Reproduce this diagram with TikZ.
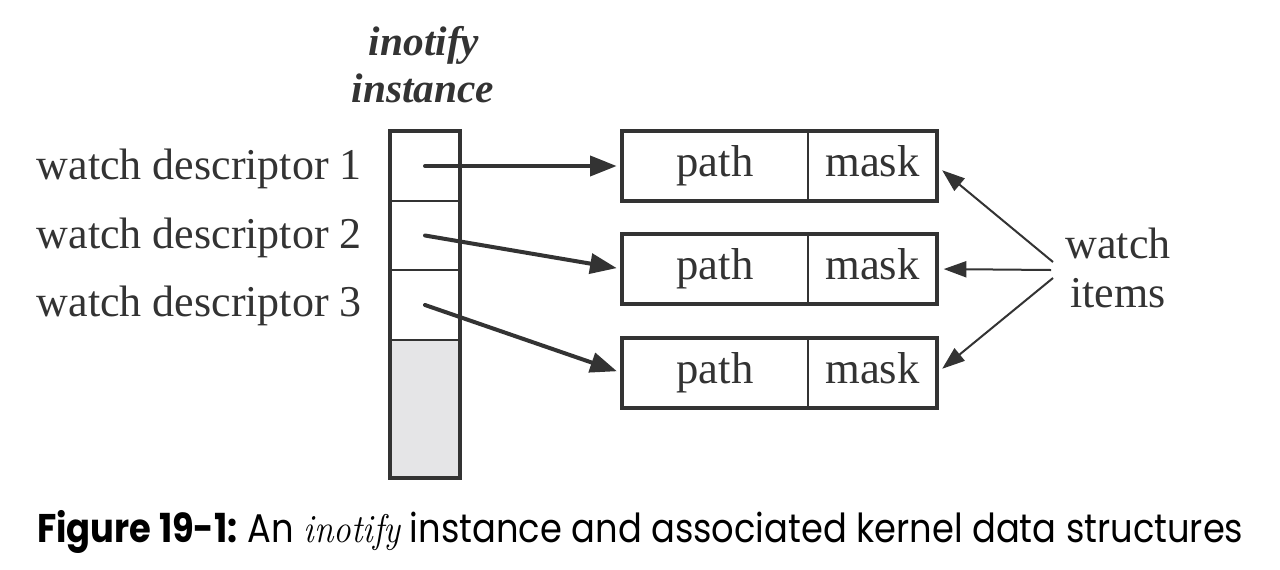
\documentclass[tikz,border=0pt]{standalone}
\usepackage{fontspec}
\usepackage{graphicx}
\usetikzlibrary{arrows.meta,calc}
\newfontfamily\dfont{Liberation Serif}
\newfontfamily\capfont{Poppins}
\definecolor{ink}{HTML}{333333}
\definecolor{cellgray}{HTML}{E5E5E7}
\begin{document}
\begin{tikzpicture}[x=0.75pt,y=-0.75pt,
  dtext/.style={inner sep=0pt, text=ink, font=\dfont\fontsize{33}{40}\selectfont},
  ttext/.style={inner sep=0pt, text=ink, font=\dfont\fontsize{31}{37}\selectfont\bfseries\itshape},
  cell/.style={draw=ink, line width=1.5pt, minimum width=52.5pt, inner sep=0pt, outer sep=0pt},
  fieldbox/.style={draw=ink, line width=1.5pt, minimum height=52.5pt, inner sep=0pt, outer sep=0pt,
     text=ink, font=\dfont\fontsize{33.5}{40}\selectfont, text height=23pt, text depth=8pt},
  outline/.style={draw=ink, line width=3pt},
  bigarrow/.style={draw=ink, line width=3pt, line cap=round, shorten >=4pt, -{Triangle[length=20pt,width=15pt]}},
  thinarrow/.style={draw=ink, line width=1.5pt, shorten >=5pt, -{Triangle[length=17pt,width=12pt]}}
]
\useasboundingbox (0,0) rectangle (1280,569);
\fill[white] (0,0) rectangle (1280,569);

% title
\node[ttext, anchor=base] (t1) at (424,55) {inotify};
\node[ttext, anchor=base] (t2) at (423,102) {instance};

% column cells
\node[cell, minimum height=52.5pt] (c1) at (425,166) {};
\node[cell, minimum height=51.75pt] (c2) at (425,235.5) {};
\node[cell, minimum height=52.5pt] (c3) at (425,305) {};
\node[cell, minimum height=103.5pt, fill=cellgray] (c4) at (425,409) {};
\draw[outline] (c1.north west) rectangle (c4.south east);

% labels
\node[dtext, anchor=base east] (l1) at (362,179) {watch descriptor 1};
\node[dtext, anchor=base east] (l2) at (362,248) {watch descriptor 2};
\node[dtext, anchor=base east] (l3) at (362,316) {watch descriptor 3};

% watch item boxes
\foreach \i/\y in {1/166,2/269,3/373}{
  \node[fieldbox, minimum width=139.5pt] (p\i) at (715,\y) {path};
  \node[fieldbox, minimum width=96.75pt] (m\i) at (872.5,\y) {mask};
  \draw[outline] (p\i.north west) rectangle (m\i.south east);
}

% arrows from descriptors
\draw[bigarrow] (c1.center) -- (p1.west);
\draw[bigarrow] (c2.center) -- (p2.west);
\draw[bigarrow] (c3.center) -- (p3.west);

% watch items label
\node[dtext, anchor=base] (w1) at (1118,258) {watch};
\node[dtext, anchor=base] (w2) at (1118,307) {items};
\coordinate (s1) at (1053,262);
\coordinate (s2) at (1051,270);
\coordinate (s3) at (1053,278);
\draw[thinarrow] (s1) -- (m1.east);
\draw[thinarrow] (s2) -- (m2.east);
\draw[thinarrow] (s3) -- (m3.east);

% caption
\node[anchor=base west, inner sep=0pt] (cap) at (37,542)
  {\resizebox{904.5pt}{\height}{\capfont\fontsize{30}{34}\selectfont\bfseries Figure 19-1: \mdseries An {\normalfont\itshape inotify} instance and associated kernel data structures}};
\end{tikzpicture}
\end{document}
